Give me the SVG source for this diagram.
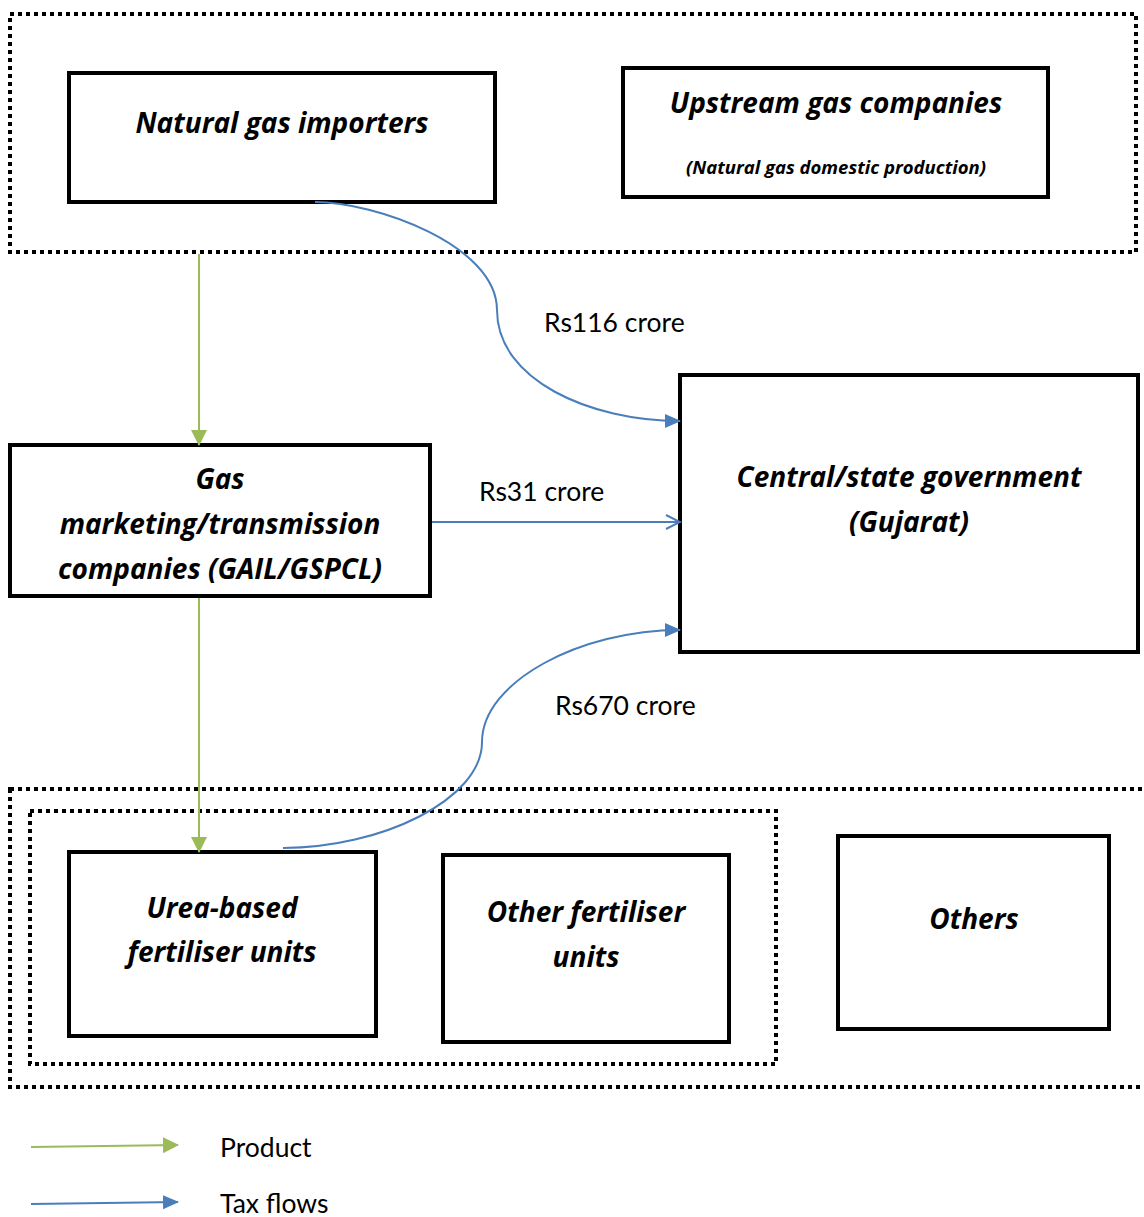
<svg xmlns="http://www.w3.org/2000/svg" width="1144" height="1217" viewBox="0 0 1144 1217">
<style>
.box{fill:#fff;stroke:#000;stroke-width:4}
.dot{fill:none;stroke:#000;stroke-width:4;stroke-dasharray:4 4}
.nt{font-family:"Open Sans",Lato,sans-serif;font-weight:bold;font-style:italic;font-size:28px;fill:#000;text-anchor:middle;dominant-baseline:central}
.sm{font-size:18.5px}
.lb{font-family:Lato,"Open Sans",sans-serif;font-size:26.5px;fill:#000}
.g{stroke:#9bbb59;stroke-width:2;fill:none}
.b{stroke:#4a7ebb;stroke-width:2;fill:none}
</style>
<defs>
<marker id="agL" markerWidth="16" markerHeight="16" refX="15" refY="8" orient="auto" markerUnits="userSpaceOnUse" viewBox="0 0 16 16"><path d="M0,0 L16,8 L0,16 z" fill="#9bbb59"/></marker>
<marker id="ab" markerWidth="16" markerHeight="16" refX="15" refY="8" orient="auto" markerUnits="userSpaceOnUse" viewBox="0 0 16 16"><path d="M0,1 L16,8 L0,15 z" fill="#4a7ebb"/></marker>
<marker id="abo" markerWidth="18" markerHeight="18" refX="16" refY="9" orient="auto" markerUnits="userSpaceOnUse" viewBox="0 0 18 18"><path d="M2,2 L16,9 L2,16" fill="none" stroke="#4a7ebb" stroke-width="2"/></marker>
</defs>
<rect width="1144" height="1217" fill="#fff"/>
<g id="groups">
<rect class="dot" x="10" y="14" width="1126" height="238"/>
<rect class="dot" x="10" y="789" width="1140" height="298"/>
<rect class="dot" x="30" y="811" width="746" height="253"/>
</g>
<g id="n-importers">
<rect class="box" x="69" y="73" width="426" height="129"/>
<text class="nt" x="282" y="122">Natural gas importers</text>
</g>
<g id="n-upstream">
<rect class="box" x="623" y="68" width="425" height="129"/>
<text class="nt" x="836" y="102">Upstream gas companies</text>
<text class="nt sm" x="836" y="166">(Natural gas domestic production)</text>
</g>
<g id="n-gas">
<rect class="box" x="10" y="445" width="420" height="151"/>
<text class="nt" x="220" y="478">Gas</text>
<text class="nt" x="220" y="523">marketing/transmission</text>
<text class="nt" x="220" y="568">companies (GAIL/GSPCL)</text>
</g>
<g id="n-gov">
<rect class="box" x="680" y="375" width="458" height="277"/>
<text class="nt" x="909" y="476">Central/state government</text>
<text class="nt" x="909" y="521">(Gujarat)</text>
</g>
<g id="n-urea">
<rect class="box" x="69" y="852" width="307" height="184"/>
<text class="nt" x="222" y="907">Urea-based</text>
<text class="nt" x="222" y="951">fertiliser units</text>
</g>
<g id="n-other">
<rect class="box" x="443" y="855" width="286" height="187"/>
<text class="nt" x="586" y="911">Other fertiliser</text>
<text class="nt" x="586" y="956">units</text>
</g>
<g id="n-others">
<rect class="box" x="838" y="836" width="271" height="193"/>
<text class="nt" x="974" y="918">Others</text>
</g>
<g id="connectors">
<line class="g" x1="199" y1="254" x2="199" y2="445" marker-end="url(#agL)"/>
<line class="g" x1="199" y1="598" x2="199" y2="852" marker-end="url(#agL)"/>
<path class="b" d="M315,202 C375,202 497,245 497,310 C497,380 590,421 680,421" marker-end="url(#ab)"/>
<line class="b" x1="432" y1="522" x2="680" y2="522" marker-end="url(#abo)"/>
<path class="b" d="M283,848 C380,848 482,800 482,742 C482,682 580,630 680,630" marker-end="url(#ab)"/>
<text class="lb" x="544" y="332">Rs116 crore</text>
<text class="lb" x="479" y="501">Rs31 crore</text>
<text class="lb" x="555" y="715">Rs670 crore</text>
</g>
<g id="legend">
<line class="g" x1="31" y1="1147" x2="178" y2="1145" marker-end="url(#agL)"/>
<text class="lb" x="220" y="1157">Product</text>
<line class="b" x1="31" y1="1204" x2="178" y2="1202" marker-end="url(#ab)"/>
<text class="lb" x="220" y="1213">Tax flows</text>
</g>
</svg>
